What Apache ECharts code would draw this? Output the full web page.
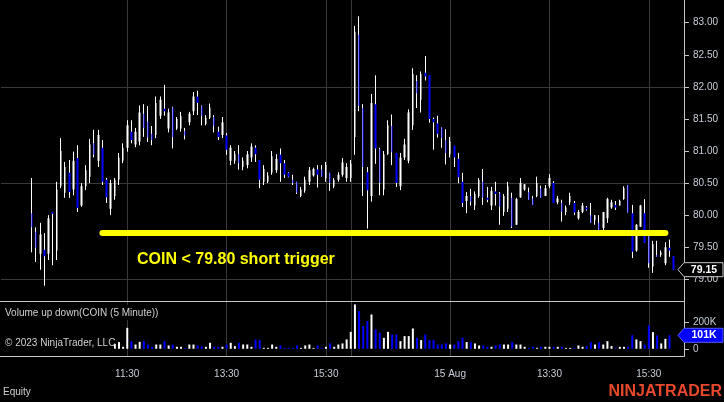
<!DOCTYPE html>
<html><head><meta charset="utf-8">
<script src="https://cdn.jsdelivr.net/npm/echarts@6/dist/echarts.min.js"></script>
<style>html,body{margin:0;padding:0;background:#000;}#c{width:724px;height:402px;}</style>
</head><body><div id="c"></div>
<script>
// ---- data: COIN 5-minute bars, 14-15 Aug 2023 ----
const opens = [
80.03,79.74,79.40,79.46,79.40,80.05,79.45,80.45,80.35,80.66,80.40,80.89,80.15,80.45,80.60,81.12,80.85,81.05,80.55,80.10,
80.30,80.55,80.85,81.05,81.30,81.10,81.15,81.58,81.46,81.27,81.25,81.55,81.66,81.35,81.68,81.35,81.35,81.31,81.45,81.62,
81.85,81.70,81.42,81.52,81.53,81.30,81.25,81.24,80.85,80.85,80.95,80.75,80.78,80.90,81.05,80.86,80.52,80.52,80.66,80.70,
80.94,80.81,80.66,80.55,80.52,80.30,80.38,80.52,80.62,80.71,80.71,80.58,80.66,80.45,80.55,80.63,80.58,80.58,
81.22,82.81,81.67,80.67,80.30,81.73,81.03,80.40,80.95,81.39,80.97,80.45,80.90,80.85,81.40,82.09,81.80,82.22,82.18,81.50,
81.43,81.37,81.17,80.95,81.08,80.88,80.52,80.22,80.30,80.15,80.30,80.52,80.27,80.15,80.37,80.34,80.05,80.10,80.27,79.85,
80.28,80.40,80.36,80.26,80.30,80.42,80.30,80.45,80.50,80.20,80.19,80.05,80.20,80.19,79.95,80.05,80.12,80.00,79.92,79.88,
79.80,79.95,80.12,80.16,80.15,80.25,80.47,80.03,79.45,79.82,80.03,79.70,79.20,79.38,79.38,79.25,79.49,79.36];
const highs = [
80.58,79.81,79.88,79.72,80.00,80.05,80.52,81.20,80.83,80.86,80.99,81.09,80.50,80.78,81.19,81.33,81.33,81.17,80.58,80.55,
80.58,80.97,81.12,81.48,81.48,81.36,81.71,81.73,81.70,81.39,81.85,81.85,82.03,81.66,81.69,81.53,81.61,81.36,81.61,81.92,
81.94,81.71,81.56,81.74,81.56,81.38,81.53,81.28,81.09,81.00,81.09,80.90,81.00,81.12,81.09,80.86,80.78,80.67,81.00,80.95,
81.04,80.86,80.67,80.63,80.52,80.44,80.60,80.75,80.74,80.78,80.78,80.83,80.66,80.58,80.67,80.89,80.81,80.86,
82.95,83.10,81.73,80.75,81.89,82.18,81.05,81.00,81.48,81.57,80.97,80.97,81.19,81.65,82.29,82.18,82.24,82.48,82.18,81.52,
81.55,81.37,81.34,81.22,81.08,80.97,80.66,80.36,80.41,80.37,80.58,80.72,80.44,80.44,80.52,80.36,80.33,80.52,80.35,80.27,
80.58,80.48,80.43,80.30,80.60,80.46,80.47,80.64,80.53,80.30,80.24,80.15,80.35,80.22,80.08,80.19,80.14,80.19,80.00,80.00,
80.05,80.27,80.24,80.22,80.24,80.45,80.47,80.16,79.86,80.16,80.25,79.70,79.60,79.60,79.45,79.58,79.62,79.36];
const lows = [
79.42,79.27,79.15,78.90,79.30,79.22,79.30,80.42,80.27,80.27,80.31,80.05,80.13,80.39,80.50,80.90,80.75,80.47,80.19,80.00,
80.24,80.47,80.81,80.99,81.12,81.06,81.09,81.22,81.14,81.09,81.20,81.50,81.55,81.29,81.04,81.33,81.30,81.18,81.40,81.56,
81.56,81.40,81.40,81.50,81.29,81.17,81.20,80.94,80.78,80.80,80.71,80.70,80.73,80.83,80.83,80.42,80.47,80.50,80.63,80.66,
80.52,80.58,80.59,80.47,80.33,80.28,80.35,80.47,80.60,80.43,80.60,80.52,80.38,80.42,80.52,80.60,80.52,80.52,
80.94,81.62,80.30,79.79,80.21,80.80,80.31,80.31,80.94,80.78,80.44,80.39,80.86,80.81,81.33,81.67,81.60,82.10,81.44,81.02,
81.21,81.05,80.79,80.90,80.75,80.50,80.13,80.03,80.15,80.08,80.27,80.16,80.20,80.08,80.15,79.85,79.99,80.05,79.80,79.85,
80.27,80.38,80.24,80.16,80.28,80.27,80.30,80.42,80.19,80.17,79.90,80.00,80.16,80.00,79.93,80.03,80.07,79.88,79.85,79.77,
79.77,79.88,80.10,80.08,80.15,80.24,80.04,79.33,79.43,79.82,79.57,79.18,79.10,79.35,79.35,79.22,79.35,79.15];
const closes = [
79.81,79.49,79.70,79.36,79.95,80.02,80.40,81.00,80.75,80.36,80.85,80.11,80.45,80.70,81.10,80.94,81.25,80.52,80.28,80.50,
80.55,80.90,81.05,81.40,81.17,81.30,81.60,81.36,81.21,81.17,81.75,81.80,81.62,81.60,81.22,81.50,81.55,81.24,81.58,81.85,
81.75,81.55,81.52,81.68,81.39,81.22,81.45,81.02,81.05,80.95,80.81,80.85,80.95,81.07,80.95,80.55,80.72,80.62,80.92,80.88,
80.81,80.63,80.60,80.50,80.35,80.40,80.55,80.70,80.72,80.63,80.60,80.78,80.50,80.55,80.63,80.82,80.75,80.80,
82.86,81.70,80.75,80.39,81.75,81.04,80.50,80.95,81.40,80.98,80.50,80.90,81.10,81.60,82.20,81.90,82.20,82.16,81.50,81.45,
81.27,81.20,80.97,81.15,80.90,80.59,80.19,80.30,80.21,80.33,80.55,80.27,80.24,80.38,80.33,80.13,80.30,80.45,79.82,80.25,
80.50,80.48,80.24,80.16,80.50,80.27,80.42,80.58,80.19,80.26,80.05,80.12,80.30,80.04,80.05,80.15,80.09,79.88,80.00,79.77,
80.05,80.25,80.20,80.12,80.22,80.42,80.04,79.43,79.85,80.15,79.57,79.25,79.55,79.35,79.42,79.50,79.45,79.15];
const volumes = [
95000,90000,85000,80000,75000,70000,90000,85000,60000,55000,65000,80000,50000,45000,60000,50000,55000,60000,50000,45000,
37000,50000,15000,157000,57000,32000,52000,57000,32000,15000,32000,32000,57000,25000,32000,15000,15000,7000,32000,32000,
25000,20000,15000,45000,15000,15000,15000,32000,45000,20000,45000,32000,32000,15000,70000,65000,7000,7000,32000,15000,
25000,7000,7000,7000,25000,7000,25000,32000,7000,25000,7000,15000,40000,15000,32000,40000,70000,127000,
332000,282000,170000,207000,257000,145000,120000,82000,127000,107000,107000,57000,95000,95000,152000,82000,65000,107000,65000,65000,
32000,32000,40000,32000,32000,57000,82000,50000,50000,40000,25000,25000,15000,15000,25000,32000,32000,32000,50000,32000,
32000,15000,7000,15000,7000,15000,15000,15000,15000,15000,15000,7000,7000,7000,25000,15000,20000,50000,32000,50000,
32000,57000,20000,7000,15000,15000,15000,102000,70000,57000,32000,175000,125000,100000,40000,75000,101000,null];

// axis ticks / labels
const priceTicks = [79.00, 79.50, 80.00, 80.50, 81.00, 81.50, 82.00, 82.50, 83.00];
const priceGridLevels = [79.00, 80.50, 82.00];
const volumeTicks = [0, 200000];
const timeTickLabels = {23: '11:30', 47: '13:30', 71: '15:30', 101: '15 Aug', 125: '13:30', 149: '15:30'};
const sessionBreakBars = [77];
const sessionDates = ['2023-08-14', '2023-08-15'];
const triggerLevel = 79.73;
const triggerFromBar = 17, triggerToBar = 153;
const triggerText = 'COIN < 79.80 short trigger';

// ---- categories (5-minute slots) ----
function hhmm(m) { const h = Math.floor(m / 60), mm = m % 60; return (h < 10 ? '0' : '') + h + ':' + (mm < 10 ? '0' : '') + mm; }
const padBefore = 7, padAfter = 2;
const categories = [];
for (let k = padBefore; k >= 1; k--) categories.push(sessionDates[0] + ' ' + hhmm(575 - 5 * k));
sessionDates.forEach(d => { for (let m = 575; m <= 960; m += 5) categories.push(d + ' ' + hhmm(m)); });
for (let k = 1; k <= padAfter; k++) categories.push(sessionDates[1] + ' ' + hhmm(960 + 5 * k));
const barCat = i => categories[i + padBefore];

const labelByCat = {};
Object.keys(timeTickLabels).forEach(i => { labelByCat[+i + padBefore] = timeTickLabels[i]; });

const candleData = opens.map((o, i) => [barCat(i), o, closes[i], lows[i], highs[i]]);
const volumeData = [];
volumes.forEach((v, i) => {
  if (v == null) return;
  volumeData.push({ value: [barCat(i), v], itemStyle: { color: closes[i] >= opens[i] ? '#ffffff' : '#0000ff' } });
});

const vLines = Object.keys(timeTickLabels).map(Number).concat(sessionBreakBars).map(i => ({ xAxis: barCat(i) }));
const FONT = 'Liberation Sans, Arial, sans-serif';
const AXC = '#c8ced8';
const GRIDC = '#3a3a3a';

const chart = echarts.init(document.getElementById('c'), null, { renderer: 'canvas' });
const option = {
  backgroundColor: '#000',
  animation: false,
  textStyle: { fontFamily: FONT },
  grid: [
    { left: 1, right: 40, top: 0, height: 301.5 },
    { left: 1, right: 40, top: 301.5, height: 55 }
  ],
  xAxis: [
    { type: 'category', gridIndex: 0, data: categories, boundaryGap: true,
      axisLine: { show: false }, axisTick: { show: false }, axisLabel: { show: false }, splitLine: { show: false } },
    { type: 'category', gridIndex: 1, data: categories, boundaryGap: true,
      axisLine: { show: false },
      axisTick: { show: true, alignWithLabel: true, length: 5, interval: (idx) => labelByCat[idx] !== undefined,
                  lineStyle: { color: '#c8c8c8' } },
      axisLabel: { show: true, interval: (idx) => labelByCat[idx] !== undefined,
                   formatter: (v, idx) => labelByCat[idx] || '', color: AXC, fontSize: 10, margin: 13, fontFamily: FONT },
      splitLine: { show: false } }
  ],
  yAxis: [
    { type: 'value', gridIndex: 0, position: 'right', min: 78.654, max: 83.354, scale: true,
      axisLine: { show: true, lineStyle: { color: '#c8c8c8' } },
      axisTick: { show: true, length: 5, customValues: priceTicks, lineStyle: { color: '#c8c8c8' } },
      axisLabel: { show: true, customValues: priceTicks, formatter: v => v.toFixed(2), color: AXC, fontSize: 10, margin: 9, fontFamily: FONT },
      splitLine: { show: false } },
    { type: 'value', gridIndex: 1, position: 'right', min: -57700, max: 354000,
      axisLine: { show: true, lineStyle: { color: '#c8c8c8' } },
      axisTick: { show: true, length: 5, customValues: volumeTicks, lineStyle: { color: '#c8c8c8' } },
      axisLabel: { show: true, customValues: volumeTicks, formatter: v => v === 0 ? '0' : (v / 1000) + 'K', color: AXC, fontSize: 10, margin: 9, fontFamily: FONT },
      splitLine: { show: false } }
  ],
  series: [
    { name: 'wicks', type: 'candlestick', xAxisIndex: 0, yAxisIndex: 0, data: candleData,
      encode: { x: 0, y: [1, 2, 3, 4] }, barWidth: 1, clip: false, silent: true, z: 2,
      itemStyle: { color: '#fff', color0: '#fff', borderColor: '#fff', borderColor0: '#fff', borderColorDoji: '#fff', borderWidth: 1 },
      markLine: { silent: true, symbol: ['none', 'none'], z: 1, label: { show: false },
        lineStyle: { color: GRIDC, width: 1, type: 'solid' },
        data: priceGridLevels.map(v => ({ yAxis: v })).concat(vLines) } },
    { name: 'COIN', type: 'candlestick', xAxisIndex: 0, yAxisIndex: 0, data: candleData,
      encode: { x: 0, y: [1, 2, 3, 4] }, barWidth: 2, clip: false, silent: true, z: 3,
      itemStyle: { color: '#fff', color0: '#0000ff', borderColor: '#fff', borderColor0: '#0000ff', borderColorDoji: '#fff', borderWidth: 0 },
      markLine: { silent: true, symbol: ['none', 'none'], z: 10, label: { show: false },
        lineStyle: { color: '#ffff00', width: 6, type: 'solid', cap: 'round' },
        data: [[{ coord: [barCat(triggerFromBar), triggerLevel] }, { coord: [barCat(triggerToBar), triggerLevel] }]] } },
    { name: 'Volume', type: 'bar', xAxisIndex: 1, yAxisIndex: 1, data: volumeData,
      encode: { x: 0, y: 1 }, barWidth: 2, silent: true, z: 3,
      markLine: { silent: true, symbol: ['none', 'none'], z: 1, label: { show: false },
        lineStyle: { color: GRIDC, width: 1, type: 'solid' }, data: vLines } }
  ]
};
chart.setOption(option);

// ---- overlays: panel frames, labels, last-value tags ----
const lastIdx = closes.length - 1;
const lastClose = closes[lastIdx];
let lastVol = null; for (let i = volumes.length - 1; i >= 0; i--) { if (volumes[i] != null) { lastVol = volumes[i]; break; } }
const axisX = 724 - 40;
const yClose = chart.convertToPixel({ yAxisIndex: 0 }, lastClose);
const yVol = chart.convertToPixel({ yAxisIndex: 1 }, lastVol);
function tag(y, fill, stroke, text) {
  return [
    { type: 'polygon', z: 120, shape: { points: [[axisX - 6, y], [axisX, y - 7], [723, y - 7], [723, y + 7], [axisX, y + 7]] },
      style: { fill: fill, stroke: stroke, lineWidth: 1 } },
    { type: 'text', z: 121, x: 704, y: y, style: { text: text, fill: '#fff', font: 'bold 10.5px ' + FONT, textAlign: 'center', textVerticalAlign: 'middle' } }
  ];
}
const fmtVol = v => Math.round(v / 1000) + 'K';
chart.setOption({
  graphic: [
    { type: 'line', z: 90, shape: { x1: 0, y1: 301.5, x2: axisX, y2: 301.5 }, style: { stroke: '#c8c8c8', lineWidth: 1 } },
    { type: 'line', z: 90, shape: { x1: 0, y1: 356.5, x2: axisX, y2: 356.5 }, style: { stroke: '#c8c8c8', lineWidth: 1 } },
    { type: 'rect', z: 95, shape: { x: 0, y: 305, width: 156, height: 15 }, style: { fill: '#000' } },
    { type: 'text', z: 96, x: 5, y: 313, style: { text: 'Volume up down(COIN (5 Minute))', fill: '#d0d0d0', font: '10px ' + FONT, textVerticalAlign: 'middle' } },
    { type: 'rect', z: 95, shape: { x: 0, y: 335, width: 114, height: 15 }, style: { fill: '#000' } },
    { type: 'text', z: 96, x: 5, y: 343, style: { text: '\u00A9 2023 NinjaTrader, LLC', fill: '#d0d0d0', font: '10px ' + FONT, textVerticalAlign: 'middle' } },
    { type: 'text', z: 96, x: 3, y: 392, style: { text: 'Equity', fill: '#d0d0d0', font: '10px ' + FONT, textVerticalAlign: 'middle' } },
    { type: 'text', z: 96, x: 137, y: 260, style: { text: triggerText, fill: '#ffff00', font: 'bold 16px ' + FONT, textVerticalAlign: 'middle' } },
    { type: 'text', z: 96, x: 722, y: 392, style: { text: 'NINJATRADER', fill: '#e8482c', font: 'bold 16px ' + FONT, textAlign: 'right', textVerticalAlign: 'middle' } }
  ].concat(tag(yClose, '#000', '#c8c8c8', lastClose.toFixed(2)), tag(yVol, '#0000ff', '#5a5aff', fmtVol(lastVol)))
});
</script>
</body></html>
